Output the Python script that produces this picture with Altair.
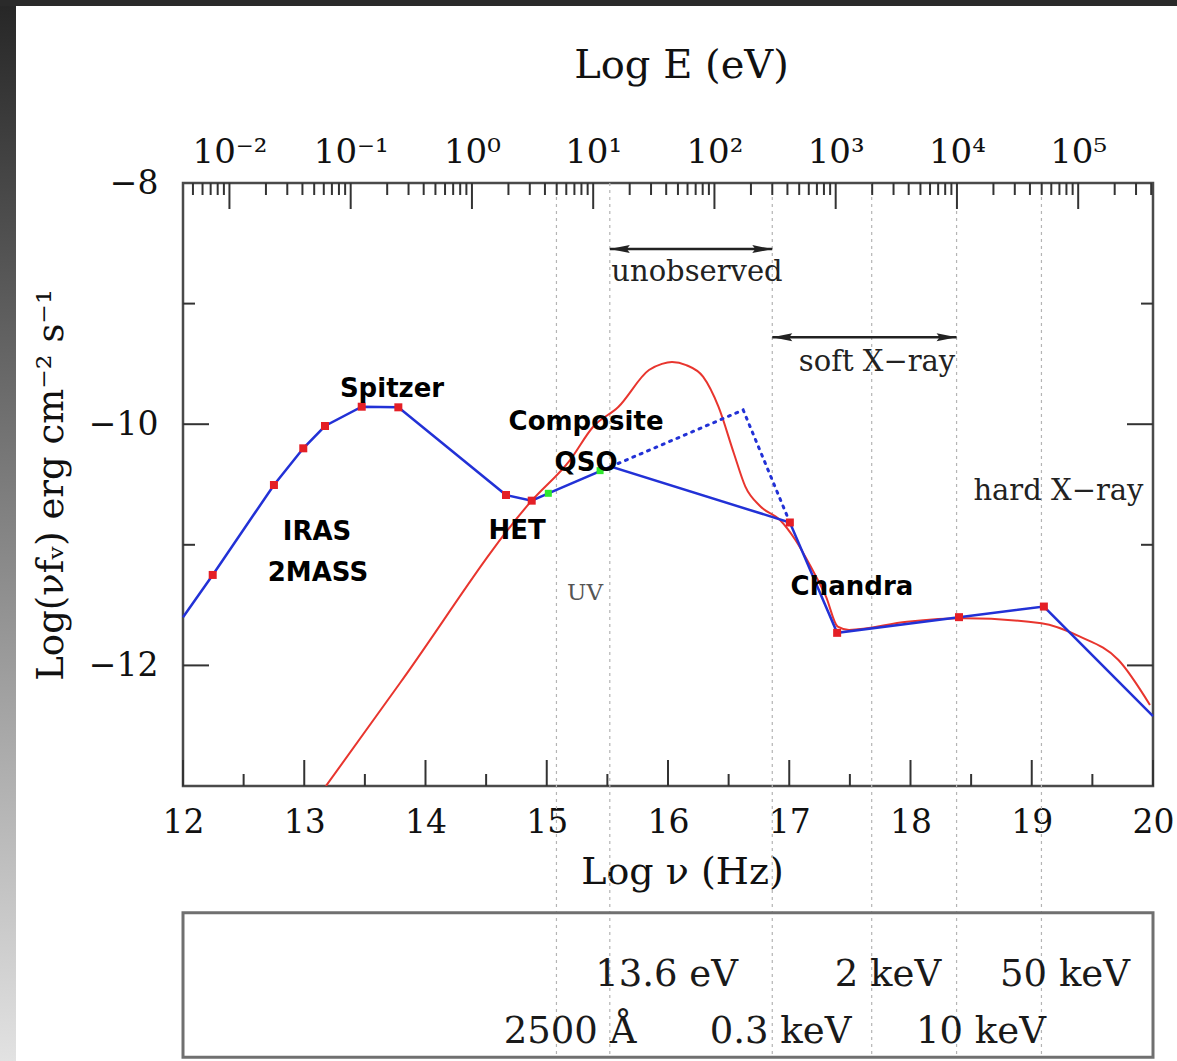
import math
import altair as alt
import pandas as pd

# ---------------- data ----------------
# blue connected SED (log nu, log nu f_nu)
blue_x = [12.0, 12.245, 12.750, 12.992, 13.171, 13.474, 13.776, 14.664, 14.876,
          15.013, 15.528, 17.005, 17.395, 18.400, 19.100, 20.0]
blue_y = [-11.60, -11.25, -10.504, -10.20, -10.015, -9.855, -9.86, -10.587, -10.634,
          -10.573, -10.352, -10.815, -11.73, -11.60, -11.512, -12.42]
# red square photometry points
obs_x = [12.245, 12.750, 12.992, 13.171, 13.474, 13.776, 14.664, 14.876,
         17.005, 17.395, 18.400, 19.100]
obs_y = [-11.25, -10.504, -10.20, -10.015, -9.855, -9.86, -10.587, -10.634,
         -10.815, -11.73, -11.60, -11.512]
# green points (HET / composite)
grn_x = [15.013, 15.44]
grn_y = [-10.573, -10.385]
# dotted blue (composite QSO extrapolation)
dot_x = [15.528, 16.62, 17.005]
dot_y = [-10.352, -9.882, -10.815]
# red model curve
red_x = [13.179, 13.790, 14.876, 15.192, 15.381, 15.592, 15.843, 15.95, 16.033,
         16.15, 16.289, 16.416, 16.543, 16.638, 16.765, 16.924, 17.051, 17.178,
         17.303, 17.40, 17.493, 17.971, 18.446, 19.080, 19.398, 19.715, 19.975]
red_y = [-13.0, -12.146, -10.634, -10.297, -10.023, -9.855, -9.551, -9.50, -9.484,
         -9.51, -9.606, -9.855, -10.241, -10.518, -10.684, -10.794, -10.960, -11.182,
         -11.430, -11.679, -11.706, -11.638, -11.610, -11.651, -11.762, -11.955, -12.328]
# reference frequencies (2500 A, 13.6 eV, 0.3, 2, 10, 50 keV) in log nu
ref_x = [15.08, 15.52, 16.86, 17.68, 18.38, 19.08]
# lower box
box_x = [12.0]
box_x2 = [20.0]
box_y = [-14.05]
box_y2 = [-15.25]
box_lab = ["13.6 eV", "2 keV", "50 keV", "2500 Å", "0.3 keV", "10 keV"]
box_lab_x = [15.988, 17.814, 19.274, 15.192, 16.928, 18.581]
box_lab_y = [-14.567, -14.567, -14.567, -15.04, -15.04, -15.04]
# band arrows and labels
arr_x1 = [15.52, 16.86]
arr_x2 = [16.86, 18.38]
arr_y = [-8.548, -9.279]
band_lab = ["unobserved", "soft X−ray", "hard X−ray"]
band_x = [16.239, 17.724, 19.22]
band_y = [-8.738, -9.484, -10.554]
uv_lab = ["UV"]
uv_x = [15.316]
uv_y = [-11.40]
inst_lab = ["Spitzer", "Composite", "QSO", "IRAS", "2MASS", "HET", "Chandra"]
inst_x = [13.724, 15.324, 15.324, 13.105, 13.113, 14.755, 17.517]
inst_y = [-9.708, -9.982, -10.322, -10.894, -11.234, -10.886, -11.35]
# axis ticks
x_major = [12, 13, 14, 15, 16, 17, 18, 19, 20]
x_minor = [12.5, 13.5, 14.5, 15.5, 16.5, 17.5, 18.5, 19.5]
y_labels = [-8, -10, -12]
y_major = [-10, -12]
y_minor = [-9, -11]
e_major = [-2, -1, 0, 1, 2, 3, 4, 5]
e_mult = [2, 3, 4, 5, 6, 7, 8, 9]
e_lo, e_hi = 12 - 14.383, 20 - 14.383
e_minor = [d + math.log10(m) for d in range(-3, 6) for m in e_mult
           if e_lo <= d + math.log10(m) <= e_hi]

W, H = 970, 603
SERIF = "DejaVu Serif"
BOLD = "DejaVu Sans"

xs = alt.Scale(domain=[12, 20], nice=False, zero=False)
ys = alt.Scale(domain=[-13, -8], nice=False, zero=False)
es = alt.Scale(domain=[e_lo, e_hi], nice=False, zero=False)

y_axis = alt.Axis(values=y_labels, ticks=False, domain=False, grid=False,
                  labelFont=SERIF, labelFontSize=33, labelPadding=25, labelColor="#111",
                  labelFlush=False, labelOverlap=False,
                  title="Log(νfᵥ)  erg  cm⁻²  s⁻¹", titleFont=SERIF, titleFontSize=37,
                  titleFontWeight="normal", titleColor="#111", titlePadding=18)
x_axis = alt.Axis(values=x_major, format="d", ticks=False, domain=False, grid=False,
                  labelFont=SERIF, labelFontSize=33, labelPadding=20, labelColor="#111",
                  labelFlush=False, labelOverlap=False,
                  title="Log ν (Hz)", titleFont=SERIF, titleFontSize=38,
                  titleFontWeight="normal", titleColor="#111", titlePadding=14,
                  titleX=499, titleAlign="center")
top_axis = alt.Axis(orient="top", values=e_major, ticks=False, domain=False, grid=False,
                    labelExpr="'10' + ['⁻²','⁻¹','⁰','¹','²','³','⁴','⁵'][datum.value + 2]",
                    labelFont=SERIF, labelFontSize=34, labelPadding=14, labelColor="#111",
                    labelFlush=False, labelOverlap=False,
                    title="Log E (eV)", titleFont=SERIF, titleFontSize=40,
                    titleFontWeight="normal", titleColor="#111", titlePadding=50,
                    titleX=498, titleAlign="center")

X = lambda f="x": alt.X(f + ":Q", scale=xs, axis=None)
Y = lambda f="y": alt.Y(f + ":Q", scale=ys, axis=y_axis)


def df(**k):
    return pd.DataFrame(k)


one = alt.Data(values=[{"a": 1}])

# decorative frame strips
left_strip = alt.Chart(one).mark_rect(
    fill=alt.Gradient(gradient="linear",
                      stops=[alt.GradientStop(color="#262626", offset=0),
                             alt.GradientStop(color="#e2e2e2", offset=1)],
                      x1=0, x2=0, y1=0, y2=1)
).encode(x=alt.value(-183), x2=alt.value(-167), y=alt.value(-183), y2=alt.value(878))
top_strip = alt.Chart(one).mark_rect(color="#2a2a2a").encode(
    x=alt.value(-183), x2=alt.value(994), y=alt.value(-183), y2=alt.value(-177))

# dashed reference lines
refl = alt.Chart(df(x=ref_x, y=[-8.0] * 6, y2=[-15.25] * 6)).mark_rule(
    color="#b4b4b4", strokeWidth=1.2, strokeDash=[3, 4], clip=False
).encode(x=X(), y=Y(), y2="y2:Q")

box = alt.Chart(df(x=box_x, x2=box_x2, y=box_y, y2=box_y2)).mark_rect(
    fill=None, stroke="#707070", strokeWidth=3, clip=False
).encode(x=X(), x2="x2:Q", y=Y(), y2="y2:Q")

box_text = alt.Chart(df(t=box_lab, x=box_lab_x, y=box_lab_y)).mark_text(
    font=SERIF, fontSize=37, color="#1a1a1a", baseline="middle", align="center"
).encode(x=X(), y=Y(), text="t:N")

# ticks (inward)
tick_col = "#333333"
bot_major = alt.Chart(df(x=x_major)).mark_rule(color=tick_col, strokeWidth=2).encode(
    x=X(), y=alt.value(H), y2=alt.value(H - 26))
bot_minor = alt.Chart(df(x=x_minor)).mark_rule(color=tick_col, strokeWidth=2).encode(
    x=X(), y=alt.value(H), y2=alt.value(H - 12))
left_major = alt.Chart(df(y=y_major)).mark_rule(color=tick_col, strokeWidth=2).encode(
    y=Y(), x=alt.value(0), x2=alt.value(26))
left_minor = alt.Chart(df(y=y_minor)).mark_rule(color=tick_col, strokeWidth=2).encode(
    y=Y(), x=alt.value(0), x2=alt.value(12))
right_major = alt.Chart(df(y=y_major)).mark_rule(color=tick_col, strokeWidth=2).encode(
    y=Y(), x=alt.value(W - 26), x2=alt.value(W))
right_minor = alt.Chart(df(y=y_minor)).mark_rule(color=tick_col, strokeWidth=2).encode(
    y=Y(), x=alt.value(W - 12), x2=alt.value(W))

# top energy axis (independent scale)
top_major = alt.Chart(df(e=e_major)).mark_rule(color=tick_col, strokeWidth=2).encode(
    x=alt.X("e:Q", scale=es, axis=top_axis), y=alt.value(0), y2=alt.value(26))
top_minor = alt.Chart(df(e=e_minor)).mark_rule(color=tick_col, strokeWidth=2).encode(
    x=alt.X("e:Q", scale=es, axis=None), y=alt.value(0), y2=alt.value(12))

# curves
red_line = alt.Chart(df(x=red_x, y=red_y)).mark_line(
    color="#e8352e", strokeWidth=2, interpolate="monotone", clip=True
).encode(x=X(), y=Y())

blue_line = alt.Chart(df(x=blue_x, y=blue_y)).mark_line(
    color="#2231d6", strokeWidth=2.5
).encode(x=alt.X("x:Q", scale=xs, axis=x_axis), y=Y())

dot_line = alt.Chart(df(x=dot_x, y=dot_y)).mark_line(
    color="#2231d6", strokeWidth=3, strokeDash=[2, 6], strokeCap="round"
).encode(x=X(), y=Y())

obs_pts = alt.Chart(df(x=obs_x, y=obs_y)).mark_point(
    shape="square", filled=True, size=64, color="#e41f26", opacity=1
).encode(x=X(), y=Y())

grn_pts = alt.Chart(df(x=grn_x, y=grn_y)).mark_point(
    shape="square", filled=True, size=49, color="#2ee82e", opacity=1
).encode(x=X(), y=Y())

# arrows
arr_rule = alt.Chart(df(x=arr_x1, x2=arr_x2, y=arr_y)).mark_rule(
    color="#222222", strokeWidth=2.5
).encode(x=X(), x2="x2:Q", y=Y())
head_l = alt.Chart(df(x=arr_x1, y=arr_y)).mark_point(
    shape="M0,0 L2,-0.4 L1.7,0 L2,0.4 Z", filled=True, size=400, color="#222222", opacity=1
).encode(x=X(), y=Y())
head_r = alt.Chart(df(x=arr_x2, y=arr_y)).mark_point(
    shape="M0,0 L-2,-0.4 L-1.7,0 L-2,0.4 Z", filled=True, size=400, color="#222222", opacity=1
).encode(x=X(), y=Y())

band_text = alt.Chart(df(t=band_lab, x=band_x, y=band_y)).mark_text(
    font=SERIF, fontSize=29, color="#222222", baseline="middle", align="center"
).encode(x=X(), y=Y(), text="t:N")
uv_text = alt.Chart(df(t=uv_lab, x=uv_x, y=uv_y)).mark_text(
    font=SERIF, fontSize=23, color="#555555", baseline="middle", align="center"
).encode(x=X(), y=Y(), text="t:N")
inst_text = alt.Chart(df(t=inst_lab, x=inst_x, y=inst_y)).mark_text(
    font=BOLD, fontSize=26, fontWeight="bold", color="#000000", baseline="middle", align="center"
).encode(x=X(), y=Y(), text="t:N")

chart = alt.layer(
    left_strip, top_strip, refl, box, box_text,
    bot_major, bot_minor, left_major, left_minor, right_major, right_minor,
    red_line, dot_line, blue_line, obs_pts, grn_pts,
    arr_rule, head_l, head_r, band_text, uv_text, inst_text,
    top_major, top_minor,
).resolve_scale(x="independent").properties(
    width=W, height=H,
    padding={"left": 183, "top": 183, "right": 24, "bottom": 275},
    autosize=alt.AutoSizeParams(type="none"),
    background="white",
).configure_view(stroke="#4a4a4a", strokeWidth=2.5)

chart.save("out.html", embed_options={"renderer": "svg", "actions": False})
